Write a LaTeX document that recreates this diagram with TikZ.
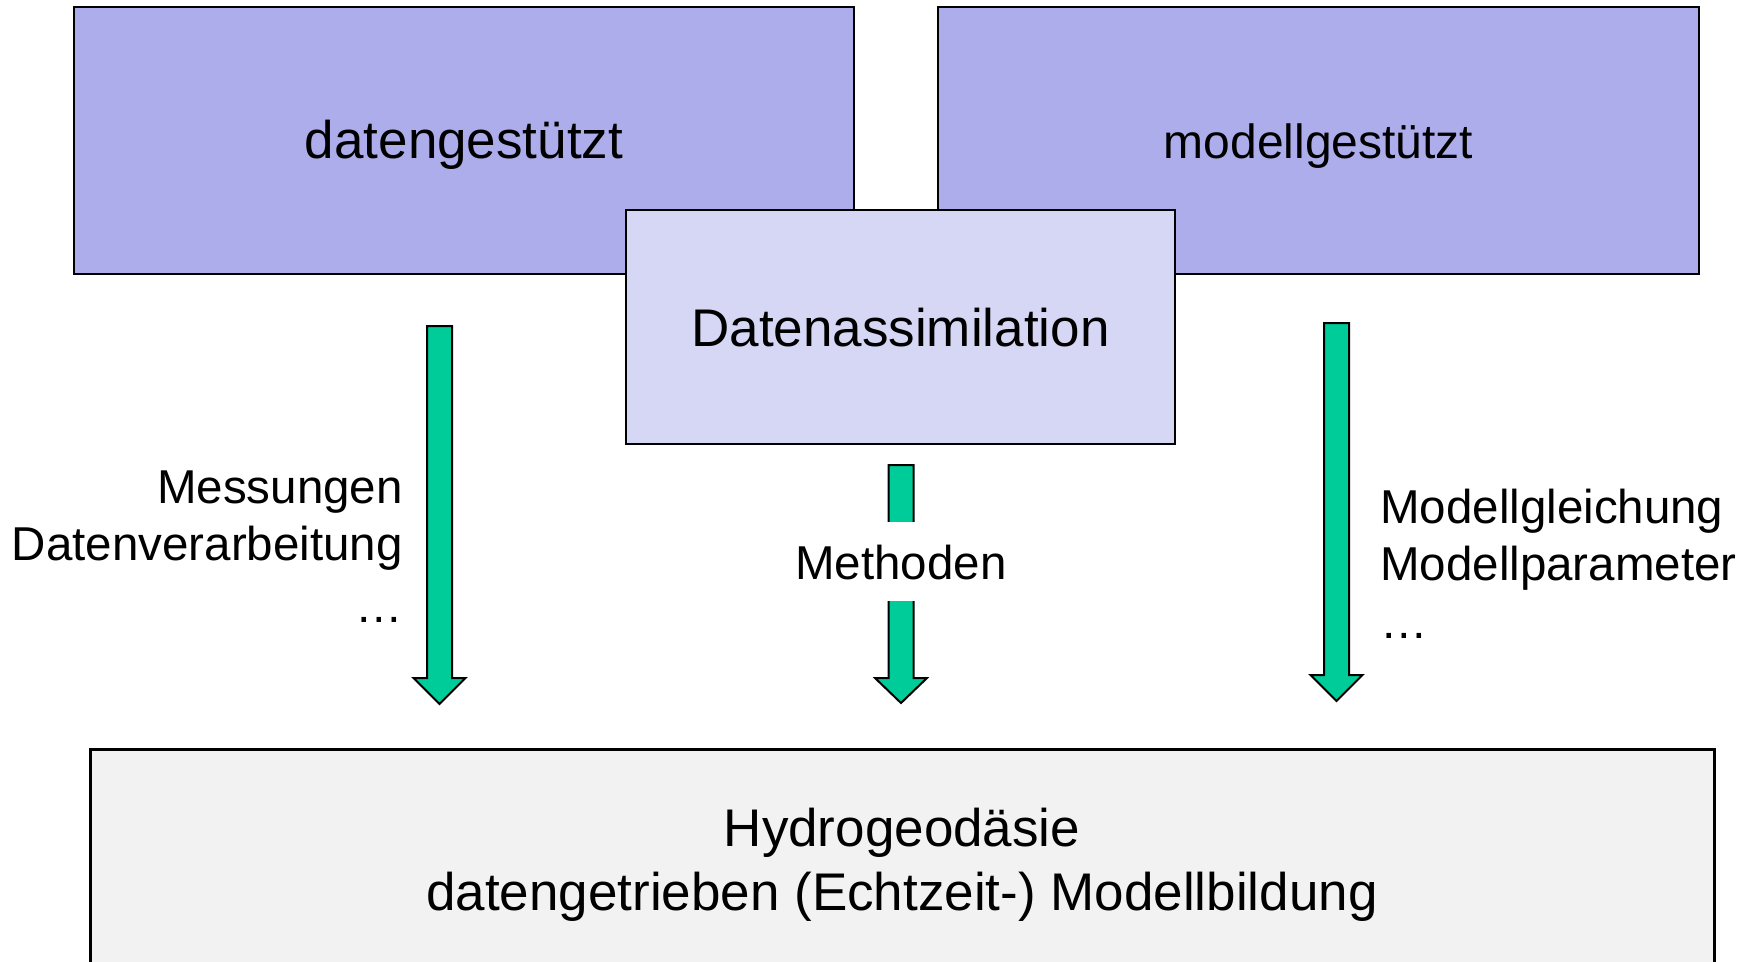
\documentclass[tikz,border=0pt]{standalone}
\usepackage{fontspec}
\setmainfont{Liberation Sans}
\definecolor{topblue}{RGB}{173,173,235}
\definecolor{midblue}{RGB}{214,214,245}
\definecolor{lightgray}{RGB}{242,242,242}
\definecolor{agreen}{RGB}{0,204,153}
\newcommand\blockarrow[4]{% x, top, head base, tip
  \draw[garrow] (#1-12.5,#2) -- (#1+12.5,#2) -- (#1+12.5,#3) -- (#1+26,#3)
    -- (#1,#4) -- (#1-26,#3) -- (#1-12.5,#3) -- cycle;}
\tikzset{
  topbox/.style={draw=black, line width=2pt, fill=topblue, inner sep=0pt, outer sep=0pt},
  midbox/.style={draw=black, line width=2pt, fill=midblue, inner sep=0pt, outer sep=0pt},
  botbox/.style={draw=black, line width=3pt, fill=lightgray, inner sep=0pt, outer sep=0pt},
  garrow/.style={draw=black, line width=2pt, fill=agreen, line join=miter},
  bigtxt/.style={font=\fontsize{53}{63}\selectfont, inner sep=0pt},
  lbltxt/.style={font=\fontsize{47.5}{57}\selectfont, inner sep=0pt},
}
\begin{document}
\begin{tikzpicture}[x=1pt,y=-1pt]
\useasboundingbox (0,0) rectangle (1758,961);
\clip (0,0) rectangle (1758,961);
\fill[white] (0,0) rectangle (1758,961);
% top boxes
\node[topbox, minimum width=780, minimum height=267] (dg) at (464,140.5) {};
\node[topbox, minimum width=761, minimum height=267] (mg) at (1318.5,140.5) {};
\node[bigtxt, anchor=base] (dgt) at (464,158) {datengestützt};
\node[lbltxt, font=\fontsize{48}{57}\selectfont, anchor=base] (mgt) at (1318.5,158) {modellgestützt};
% Datenassimilation
\node[midbox, minimum width=549, minimum height=234] (da) at (900.5,327) {};
\node[bigtxt, anchor=base] (dat) at (900.5,346) {Datenassimilation};
% bottom box
\node[botbox, minimum width=1624, minimum height=260] (hg) at (902,879) {};
\node[bigtxt, anchor=base] (hg1) at (902,846) {Hydrogeodäsie};
\node[bigtxt, anchor=base] (hg2) at (902,910) {datengetrieben (Echtzeit-) Modellbildung};
% arrows
\blockarrow{439.5}{326}{678}{704}
\blockarrow{901}{465}{678}{703}
\blockarrow{1336.5}{323}{675}{701}
% labels
\node[lbltxt, anchor=base east] (l1) at (403,503) {Messungen};
\node[lbltxt, anchor=base east] (l2) at (403,560) {Datenverarbeitung};
\node[lbltxt, anchor=base east] (l3) at (403,622) {…};
\node[lbltxt, anchor=base, fill=white, inner xsep=4pt, text height=57pt, text depth=22pt] (meth) at (901,579) {Methoden};
\node[lbltxt, anchor=base west] (r1) at (1380,523) {Modellgleichung};
\node[lbltxt, anchor=base west] (r2) at (1380,580) {Modellparameter};
\node[lbltxt, anchor=base west] (r3) at (1380,638) {…};
\end{tikzpicture}
\end{document}
